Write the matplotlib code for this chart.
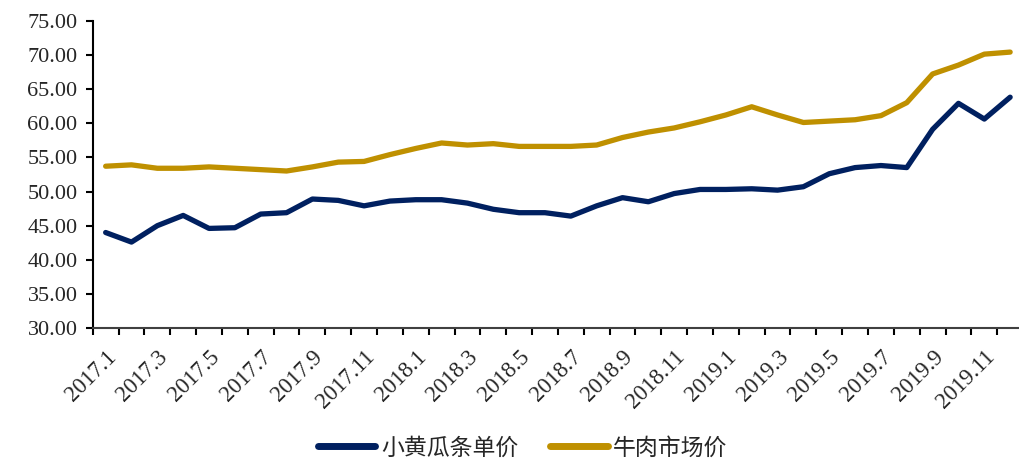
import numpy as np
import matplotlib
matplotlib.use('Agg')
import matplotlib.pyplot as plt
from matplotlib.ticker import FixedLocator, FormatStrFormatter

# Monthly data 2017.1 - 2019.12
months = [f'{y}.{m}' for y in (2017, 2018, 2019) for m in range(1, 13)]
cucumber = [44.0, 42.6, 45.0, 46.5, 44.6, 44.7, 46.7, 46.9, 48.9, 48.7, 47.9, 48.6,
            48.8, 48.8, 48.3, 47.4, 46.9, 46.9, 46.4, 47.9, 49.1, 48.5, 49.7, 50.3,
            50.3, 50.4, 50.2, 50.7, 52.6, 53.5, 53.8, 53.5, 59.1, 62.9, 60.6, 63.8]
beef = [53.7, 53.9, 53.4, 53.4, 53.6, 53.4, 53.2, 53.0, 53.6, 54.3, 54.4, 55.4,
        56.3, 57.1, 56.8, 57.0, 56.6, 56.6, 56.6, 56.8, 57.9, 58.7, 59.3, 60.2,
        61.2, 62.4, 61.2, 60.1, 60.3, 60.5, 61.1, 63.0, 67.2, 68.5, 70.1, 70.4]
names = ['小黄瓜条单价', '牛肉市场价']

fig = plt.figure(figsize=(10.19, 4.59), dpi=100)
ax = fig.add_axes([0.091, 0.285, 0.913, 0.670])

x = np.arange(len(months))
ax.plot(x, cucumber, color='#002060', lw=3.8, solid_capstyle='round',
        solid_joinstyle='round', label=names[0])
ax.plot(x, beef, color='#BF9000', lw=3.8, solid_capstyle='round',
        solid_joinstyle='round', label=names[1])

ax.set_xlim(-0.5, len(months) - 0.5)
ax.set_ylim(30, 75)
ax.set_yticks(np.arange(30, 76, 5))
ax.yaxis.set_major_formatter(FormatStrFormatter('%.2f'))

# ticks on category boundaries, labels at every other category
ax.xaxis.set_major_locator(FixedLocator(np.arange(-0.5, len(months), 1.0)))
ax.set_xticklabels([])
ax.xaxis.set_minor_locator(FixedLocator(x[::2]))
ax.set_xticklabels(months[::2], minor=True, rotation=45, ha='right', va='top',
                   rotation_mode='anchor', fontfamily='Liberation Serif', fontsize=16.5)
ax.tick_params(axis='x', which='minor', length=0, pad=13)
ax.tick_params(axis='x', which='major', length=5, width=1.5, direction='out')
ax.tick_params(axis='y', length=5, width=1.5, direction='out', pad=6)
for lab in ax.get_yticklabels():
    lab.set_fontfamily('Liberation Serif')
    lab.set_fontsize(16)
    lab.set_color('#262626')
for lab in ax.get_xticklabels(minor=True):
    lab.set_color('#262626')

for s in ['top', 'right']:
    ax.spines[s].set_visible(False)
ax.spines['left'].set_linewidth(1.5)
ax.spines['bottom'].set_linewidth(1.5)
ax.spines['bottom'].set_color('#404040')

leg = fig.legend(loc='center', bbox_to_anchor=(0.513, 0.024), ncol=2, frameon=False,
                 prop={'family': ['Noto Sans CJK SC', 'DejaVu Sans'], 'size': 16.5,
                       'weight': 'light'},
                 handlelength=2.5, handletextpad=0.25, columnspacing=1.4)
for line in leg.get_lines():
    line.set_linewidth(5)
for t in leg.get_texts():
    t.set_color('#262626')

fig.savefig('out.png', dpi=100)
plt.close()
